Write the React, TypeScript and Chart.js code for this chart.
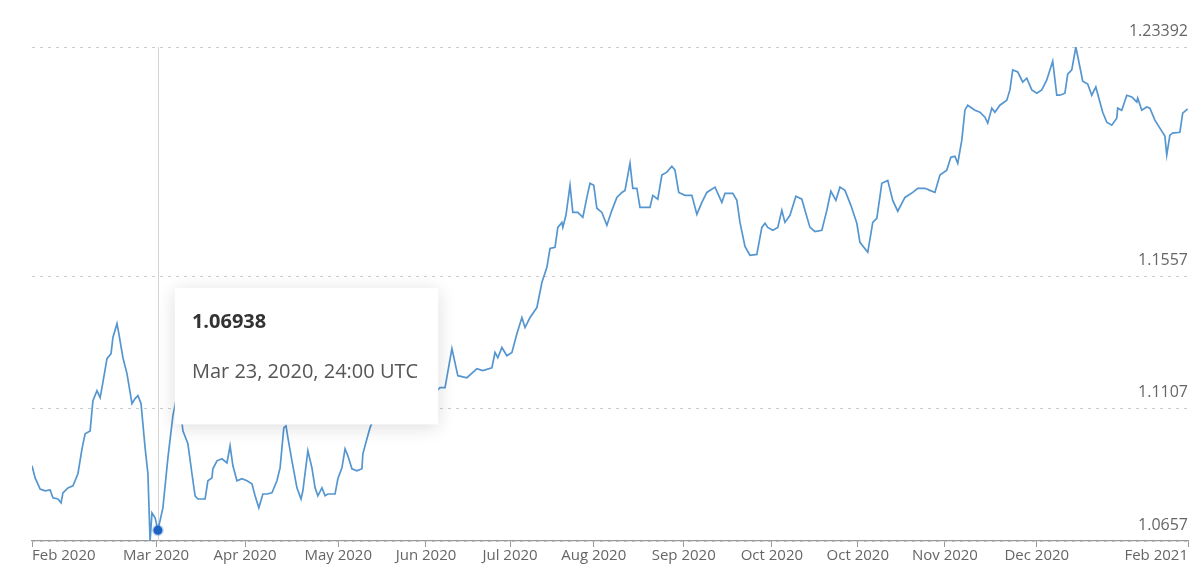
import React, { useEffect, useRef } from "react";
import { Chart, registerables, Tooltip } from "chart.js";

Chart.register(...registerables);

const FONT = "'Open Sans', 'Noto Sans', sans-serif";

// x = days since the start of the window, y = EUR/USD rate
const days = [
  0, 1.0, 2.6, 4.2, 5.8, 6.7, 8.3, 9.3, 9.9, 11.5,
  13.1, 14.7, 16.0, 17.0, 18.6, 19.5, 20.8, 21.8, 22.4, 24.0,
  25.3, 25.9, 27.2, 27.8, 29.1, 30.4, 32.0, 33.0, 33.9, 34.9,
  36.2, 37.1, 37.8, 38.4, 39.4, 40.3, 41.9, 43.5, 45.1, 46.4,
  47.4, 48.3, 49.9, 51.2, 52.2, 53.1, 55.4, 56.3, 57.6, 57.9,
  59.2, 60.8, 62.4, 63.4, 64.3, 65.6, 67.2, 68.8, 70.4, 71.4,
  72.6, 73.9, 75.2, 76.8, 78.4, 79.4, 80.0, 80.6, 81.3, 81.9,
  83.2, 84.8, 86.1, 86.7, 88.3, 89.6, 90.6, 91.5, 92.8, 93.8,
  94.7, 97.0, 97.9, 99.2, 100.2, 101.1, 102.4, 104.0, 105.6, 105.9,
  107.2, 108.2, 109.8, 113.0, 116.2, 119.4, 122.6, 125.8, 129.0, 130.6,
  132.2, 134.4, 136.3, 139.2, 142.4, 144.3, 147.2, 148.2, 149.1, 150.4,
  152.0, 153.6, 155.2, 156.8, 157.8, 159.4, 161.6, 163.2, 164.8, 165.8,
  167.4, 168.3, 169.6, 169.9, 170.9, 172.2, 173.1, 174.7, 176.3, 177.6,
  178.6, 179.8, 180.8, 182.4, 184.0, 185.6, 187.2, 188.8, 189.8, 191.4,
  192.3, 193.6, 194.6, 197.8, 198.7, 200.3, 201.6, 203.2, 204.8, 205.8,
  207.0, 209.0, 211.2, 212.8, 214.4, 216.0, 218.6, 219.5, 220.8, 221.8,
  224.3, 225.6, 226.6, 228.2, 229.8, 232.0, 233.6, 234.6, 235.5, 237.1,
  238.7, 240.0, 241.0, 242.6, 244.5, 246.4, 247.4, 249.0, 250.6, 252.8,
  254.4, 255.7, 257.3, 258.6, 260.2, 262.1, 264.0, 265.0, 267.5, 269.1,
  270.4, 272.0, 273.9, 275.5, 277.1, 279.4, 281.9, 283.5, 285.8, 287.4,
  289.0, 290.6, 292.8, 294.1, 295.4, 296.3, 297.6, 298.6, 299.5, 301.8,
  303.4, 305.0, 305.9, 307.2, 308.2, 309.8, 312.0, 313.0, 313.9, 315.5,
  317.1, 318.4, 320.0, 321.6, 323.2, 324.8, 325.8, 326.7, 328.0, 329.0,
  330.6, 331.5, 332.8, 334.1, 335.4, 336.3, 337.9, 339.2, 340.5, 341.8,
  342.7, 344.0, 345.6, 347.2, 347.5, 348.8, 350.4, 352.0, 353.6, 353.9,
  355.2, 356.8, 357.8, 359.4, 361.0, 362.6, 363.2, 364.2, 365.1, 367.4,
  368.3, 369.9,
];

const rates = [
  1.0913, 1.0872, 1.0834, 1.0828, 1.0831, 1.0804, 1.0800, 1.0787, 1.0821, 1.0838,
  1.0845, 1.0886, 1.0971, 1.1022, 1.1032, 1.1135, 1.1169, 1.1145, 1.1179, 1.1278,
  1.1295, 1.1350, 1.1397, 1.1363, 1.1281, 1.1227, 1.1125, 1.1142, 1.1152, 1.1125,
  1.0974, 1.0886, 1.0657, 1.0753, 1.0736, 1.06938, 1.0770, 1.0940, 1.1084, 1.1152,
  1.1118, 1.1032, 1.0988, 1.0886, 1.0811, 1.0800, 1.0800, 1.0862, 1.0872, 1.0903,
  1.0930, 1.0937, 1.0923, 1.0981, 1.0913, 1.0862, 1.0869, 1.0862, 1.0852, 1.0811,
  1.0770, 1.0817, 1.0817, 1.0821, 1.0862, 1.0906, 1.0974, 1.1043, 1.1049, 1.1009,
  1.0930, 1.0838, 1.0800, 1.0828, 1.0964, 1.0906, 1.0838, 1.0811, 1.0838, 1.0811,
  1.0817, 1.0817, 1.0869, 1.0906, 1.0971, 1.0947, 1.0903, 1.0896, 1.0903, 1.0954,
  1.1005, 1.1043, 1.1084, 1.1118, 1.1101, 1.1135, 1.1118, 1.1152, 1.1162, 1.1179,
  1.1179, 1.1312, 1.1220, 1.1213, 1.1244, 1.1237, 1.1247, 1.1299, 1.1281, 1.1316,
  1.1288, 1.1299, 1.1363, 1.1418, 1.1384, 1.1418, 1.1452, 1.1537, 1.1589, 1.1653,
  1.1657, 1.1725, 1.1742, 1.1725, 1.1766, 1.1868, 1.1776, 1.1776, 1.1759, 1.1827,
  1.1875, 1.1868, 1.1790, 1.1776, 1.1732, 1.1783, 1.1827, 1.1844, 1.1851, 1.1943,
  1.1858, 1.1858, 1.1793, 1.1793, 1.1834, 1.1821, 1.1903, 1.1913, 1.1933, 1.1920,
  1.1844, 1.1834, 1.1834, 1.1769, 1.1810, 1.1844, 1.1862, 1.1841, 1.1810, 1.1841,
  1.1841, 1.1817, 1.1742, 1.1660, 1.1630, 1.1633, 1.1725, 1.1739, 1.1725, 1.1715,
  1.1725, 1.1783, 1.1742, 1.1766, 1.1831, 1.1821, 1.1783, 1.1725, 1.1711, 1.1715,
  1.1783, 1.1848, 1.1817, 1.1862, 1.1851, 1.1800, 1.1739, 1.1674, 1.1640, 1.1742,
  1.1756, 1.1875, 1.1885, 1.1817, 1.1780, 1.1827, 1.1844, 1.1858, 1.1858, 1.1851,
  1.1844, 1.1903, 1.1920, 1.1964, 1.1967, 1.1943, 1.2022, 1.2124, 1.2141, 1.2124,
  1.2117, 1.2100, 1.2080, 1.2131, 1.2117, 1.2141, 1.2158, 1.2193, 1.2261, 1.2254,
  1.2220, 1.2233, 1.2193, 1.2182, 1.2193, 1.2227, 1.2261, 1.2291, 1.2175, 1.2175,
  1.2182, 1.2247, 1.2261, 1.23392, 1.2271, 1.2223, 1.2213, 1.2175, 1.2203, 1.2152,
  1.2117, 1.2083, 1.2073, 1.2097, 1.2131, 1.2124, 1.2175, 1.2169, 1.2152, 1.2165,
  1.2124, 1.2135, 1.2131, 1.2090, 1.2063, 1.2036, 1.1971, 1.2039, 1.2046, 1.2049,
  1.2114, 1.2128,
];

const xTickDays = [0, 39.7, 68.2, 98, 126.1, 153, 179.8, 208.6, 236.8, 264.3, 292.2, 321.6, 370];
const xTickLabels = [
  "Feb 2020", "Mar 2020", "Apr 2020", "May 2020", "Jun 2020", "Jul 2020", "Aug 2020",
  "Sep 2020", "Oct 2020", "Oct 2020", "Nov 2020", "Dec 2020", "Feb 2021",
];
const yTickValues = [1.0657, 1.1107, 1.1557, 1.23392];
const yTickLabels = ["1.0657", "1.1107", "1.1557", "1.23392"];

const X_MIN = 0;
const X_MAX = 370;
const Y_MIN = 1.0657;
const Y_MAX = 1.23392;

const activeIndex = 35;
const activeDateLabel = "Mar 23, 2020, 24:00 UTC";

(Tooltip.positioners as any).nearBox = function (elements: any[]) {
  if (!elements || !elements.length) return false;
  const el = elements[0].element;
  return { x: el.x + 17, y: el.y - 242, xAlign: "left", yAlign: "top" };
};

const crosshairPlugin = {
  id: "crosshairLine",
  beforeDatasetsDraw(chart: any) {
    const act = chart.tooltip ? chart.tooltip.getActiveElements() : [];
    if (!act || !act.length) return;
    const x = Math.round(act[0].element.x) + 0.5;
    const { top, bottom } = chart.chartArea;
    const ctx = chart.ctx;
    ctx.save();
    ctx.strokeStyle = "#d4d4d4";
    ctx.lineWidth = 1;
    ctx.beginPath();
    ctx.moveTo(x, top);
    ctx.lineTo(x, bottom);
    ctx.stroke();
    ctx.restore();
  },
};

const tooltipShadowPlugin = {
  id: "tooltipShadow",
  beforeTooltipDraw(chart: any, args: any) {
    const tt = args.tooltip;
    if (!tt || !tt.opacity) return;
    const ctx = chart.ctx;
    ctx.save();
    ctx.shadowColor = "rgba(0,0,0,0.14)";
    ctx.shadowBlur = 18;
    ctx.shadowOffsetY = 3;
    ctx.fillStyle = "#ffffff";
    ctx.fillRect(tt.x, tt.y, tt.width, tt.height);
    ctx.restore();
  },
};

export default function App() {
  const canvasRef = useRef<HTMLCanvasElement | null>(null);

  useEffect(() => {
    if (!canvasRef.current) return;
    const points = days.map((d, i) => ({ x: d, y: rates[i] }));
    const chart = new Chart(canvasRef.current, {
      type: "line",
      data: {
        datasets: [
          {
            data: points,
            borderColor: "#5596d0",
            borderWidth: 1.7,
            pointRadius: 0,
            pointHoverRadius: 4.5,
            pointHoverBackgroundColor: "#1c63c4",
            pointHoverBorderColor: "rgba(28,99,196,0.25)",
            pointHoverBorderWidth: 3,
            tension: 0,
            fill: false,
          },
        ],
      },
      options: {
        animation: false,
        responsive: true,
        maintainAspectRatio: false,
        events: [],
        layout: { padding: { left: 32, right: 15, top: 47, bottom: 14 } },
        plugins: {
          legend: { display: false },
          tooltip: {
            enabled: true,
            animation: false,
            position: "nearBox" as any,
            backgroundColor: "#ffffff",
            titleColor: "#333333",
            bodyColor: "#555555",
            titleFont: { family: FONT, size: 20, weight: "bold" },
            bodyFont: { family: FONT, size: 20 },
            padding: { top: 22, left: 17, right: 20, bottom: 40 },
            titleMarginBottom: 26,
            cornerRadius: 0,
            caretSize: 0,
            caretPadding: 0,
            borderWidth: 0,
            displayColors: false,
            callbacks: {
              title: (items: any[]) => items[0].parsed.y.toFixed(5),
              label: () => activeDateLabel,
            },
          },
        },
        scales: {
          x: {
            type: "linear",
            min: X_MIN,
            max: X_MAX,
            afterBuildTicks: (scale: any) => {
              scale.ticks = xTickDays.map((v) => ({ value: v }));
            },
            ticks: {
              callback: (_v: any, i: number) => xTickLabels[i],
              align: "inner",
              autoSkip: false,
              maxRotation: 0,
              minRotation: 0,
              padding: 0,
              color: "#666666",
              font: { family: FONT, size: 15 },
            },
            grid: { drawOnChartArea: false, drawTicks: true, tickLength: 6, color: "#9a9a9a" },
            border: { display: true, color: "#9a9a9a", width: 1.2 },
          },
          y: {
            type: "linear",
            position: "right",
            min: Y_MIN,
            max: Y_MAX,
            afterBuildTicks: (scale: any) => {
              scale.ticks = yTickValues.map((v) => ({ value: v }));
            },
            ticks: {
              mirror: true,
              padding: 0,
              labelOffset: -16,
              callback: (_v: any, i: number) => yTickLabels[i],
              color: "#666666",
              font: { family: FONT, size: 16 },
            },
            grid: { color: "#cccccc", lineWidth: 1, drawTicks: false },
            border: { display: false, dash: [3, 5] },
          },
        },
      },
      plugins: [crosshairPlugin, tooltipShadowPlugin],
    });

    const active = [{ datasetIndex: 0, index: activeIndex }];
    chart.setActiveElements(active);
    chart.tooltip?.setActiveElements(active, { x: 0, y: 0 });
    chart.update();

    return () => chart.destroy();
  }, []);

  return (
    <div style={{ position: "absolute", left: 0, top: 0, width: 1203, height: 579, background: "#fff" }}>
      <canvas ref={canvasRef} />
    </div>
  );
}
